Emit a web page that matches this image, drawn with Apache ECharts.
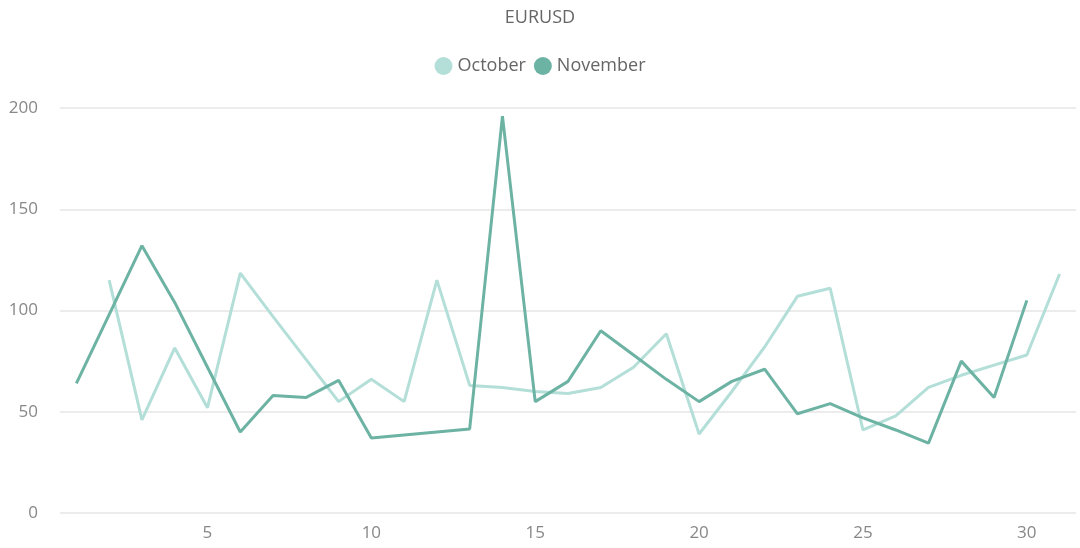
<!DOCTYPE html>
<html><head><meta charset="utf-8">
<script src="https://cdn.jsdelivr.net/npm/echarts@6/dist/echarts.min.js"></script>
<style>html,body{margin:0;padding:0;background:#fff}#c{width:1080px;height:548px}</style>
</head><body><div id="c"></div>
<script>
const days = Array.from({length:31},(_,i)=>String(i+1));
const october = [null,115,46,81.5,52,118.5,97,76,55,66,55,115,63,62,60,59,62,72,88.5,39,60,82,107,111,41,48,62,68,73,78,118];
const november = [64,98,132,104,72,40,58,57,65.5,37,38.5,40,41.5,196,55,65,90,78,66,55,65,71,49,54,47,41,34.5,75,57,105,null];
const yTicks = [0,50,100,150,200];
const chart = echarts.init(document.getElementById('c'));
const font = 'Open Sans';
chart.setOption({
  animation:false,
  title:{text:'EURUSD',left:'center',top:4,textStyle:{color:'#666',fontSize:18,fontWeight:'normal',fontFamily:font}},
  legend:{top:52,left:'center',itemGap:8,icon:'circle',itemWidth:18,itemHeight:18,
    textStyle:{color:'#666',fontSize:18,fontFamily:font},data:['October','November']},
  grid:{left:60,right:4,top:108,bottom:35},
  xAxis:{type:'category',data:days,boundaryGap:true,
    axisLine:{show:false},axisTick:{show:false},
    axisLabel:{interval:(i)=>(i+1)%5===0,color:'#888',fontSize:17,fontFamily:font,margin:12}},
  yAxis:{type:'value',min:yTicks[0],max:yTicks[yTicks.length-1],interval:50,
    axisLabel:{color:'#888',fontSize:17,fontFamily:font,margin:22},
    splitLine:{lineStyle:{color:'#e6e6e6',width:1.5}}},
  series:[
    {name:'October',type:'line',data:october,showSymbol:false,symbol:'circle',color:'#b3dfd8',lineStyle:{width:3}},
    {name:'November',type:'line',data:november,showSymbol:false,symbol:'circle',color:'#6db3a4',lineStyle:{width:3}}
  ]
});
</script></body></html>
